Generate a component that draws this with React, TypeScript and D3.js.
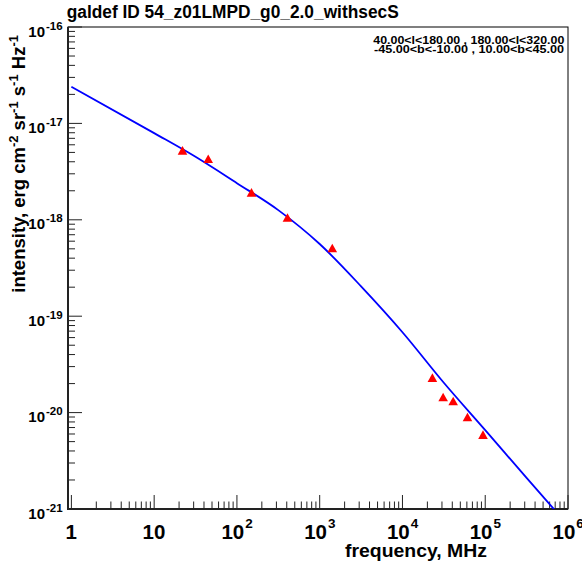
import React from "react";
import * as d3 from "d3";

const title = "galdef ID 54_z01LMPD_g0_2.0_withsecS";
const legendLines = ["40.00<l<180.00 , 180.00<l<320.00", "-45.00<b<-10.00 , 10.00<b<45.00"];

// model curve (frequency MHz, intensity)
const curveFreq = [1, 10, 31.6, 100, 316, 1000, 3162, 1e4, 3.16e4, 1e5, 3.16e5, 1e6];
const curveInt = [2.40e-17, 7.93e-18, 4.50e-18, 2.40e-18, 1.26e-18, 5.61e-19, 2.04e-19, 6.82e-20, 2.04e-20, 6.58e-21, 2.10e-21, 6.8e-22];

// data points
const dataFreq = [22, 45, 150, 408, 1420, 23000, 31000, 41000, 61000, 94000];
const dataInt = [5.21e-18, 4.27e-18, 1.91e-18, 1.05e-18, 5.06e-19, 2.29e-20, 1.44e-20, 1.31e-20, 8.93e-21, 5.86e-21];

const xMajor = [1, 10, 100, 1000, 1e4, 1e5, 1e6];
const xLabels = [["1", ""], ["10", ""], ["10", "2"], ["10", "3"], ["10", "4"], ["10", "5"], ["10", "6"]];
const yMajorExp = [-16, -17, -18, -19, -20, -21];

const W = 582, H = 566;
const L = 68, R = 568, T = 27, B = 509;
const FONT = "'Liberation Sans', Arial, Helvetica, sans-serif";

export default function App() {
  const x = d3.scaleLog().domain([0.91, 1e6]).range([L, R]);
  const y = d3.scaleLog().domain([1e-21, 1e-16]).range([B, T]);

  const pts: [number, number][] = curveFreq.map((f, i) => [x(f), y(curveInt[i])]);
  const line = d3.line().curve(d3.curveMonotoneX)(pts) || "";

  const xTicks: { v: number; major: boolean }[] = [];
  for (let e = 0; e <= 5; e++) {
    for (let k = 1; k <= 9; k++) {
      xTicks.push({ v: k * Math.pow(10, e), major: k === 1 });
    }
  }
  xTicks.push({ v: 1e6, major: true });
  const yTicks: { v: number; major: boolean }[] = [];
  for (let e = -21; e <= -17; e++) {
    for (let k = 1; k <= 9; k++) {
      yTicks.push({ v: k * Math.pow(10, e), major: k === 1 });
    }
  }
  yTicks.push({ v: 1e-16, major: true });

  const tri = (cx: number, cy: number) =>
    `M${cx},${cy - 4.6}L${cx + 4.8},${cy + 4}L${cx - 4.8},${cy + 4}Z`;

  return (
    <svg width={W} height={H} style={{ position: "absolute", left: 0, top: 0, background: "#fff" }} fontFamily={FONT} fontWeight="bold">
      <defs>
        <clipPath id="plotclip">
          <rect x={L} y={T} width={R - L} height={B - T} />
        </clipPath>
      </defs>
      <rect x={0} y={0} width={W} height={H} fill="#fff" />
      <rect x={L} y={T} width={R - L} height={B - T} fill="none" stroke="#000" strokeWidth={1} />
      <line x1={L} y1={T} x2={L} y2={B + 1} stroke="#222" strokeWidth={2} />
      <line x1={L - 1} y1={B} x2={R} y2={B} stroke="#222" strokeWidth={2} />
      {xTicks.map((t, i) => (
        <line key={"xt" + i} x1={x(t.v)} x2={x(t.v)} y1={B} y2={B - (t.major ? 14 : 7.5)} stroke="#222" strokeWidth={1} />
      ))}
      {yTicks.map((t, i) => (
        <line key={"yt" + i} x1={L} x2={L + (t.major ? 14 : 7)} y1={y(t.v)} y2={y(t.v)} stroke="#222" strokeWidth={1} />
      ))}
      {xMajor.map((v, i) => {
        const [base, sup] = xLabels[i];
        const bw = base.length * 11.6;
        const sw = sup ? 7.8 : 0;
        const total = bw + sw;
        const x0 = x(v) - total / 2;
        return (
          <g key={"xl" + i}>
            <text x={x0} y={538.5} fontSize={20.5} textAnchor="start" fill="#000">{base}</text>
            {sup && <text x={x0 + bw + 0.5} y={527.5} fontSize={13.5} textAnchor="start" fill="#000">{sup}</text>}
          </g>
        );
      })}
      {yMajorExp.map((e) => {
        const yy = y(Math.pow(10, e));
        return (
          <g key={"yl" + e}>
            <text x={45} y={yy + 9.5} fontSize={15} textAnchor="end" fill="#000">10</text>
            <text x={46} y={yy + 2.5} fontSize={11.5} textAnchor="start" fill="#000">{String(e)}</text>
          </g>
        );
      })}
      <text x={345} y={556.5} fontSize={17.5} textLength={142} lengthAdjust="spacingAndGlyphs" fill="#000">frequency, MHz</text>
      <text transform={`translate(25,35) rotate(-90)`} fontSize={18.5} textAnchor="end" fill="#000">
        intensity, erg cm<tspan dy={-7} fontSize={13}>-2</tspan>
        <tspan dy={7}> sr</tspan><tspan dy={-7} fontSize={13}>-1</tspan>
        <tspan dy={7}> s</tspan><tspan dy={-7} fontSize={13}>-1</tspan>
        <tspan dy={7}> Hz</tspan><tspan dy={-7} fontSize={13}>-1</tspan>
      </text>
      <text x={66.7} y={18.3} fontSize={17.5} textLength={332} lengthAdjust="spacingAndGlyphs" fill="#000">{title}</text>
      {legendLines.map((s, i) => (
        <text key={"lg" + i} x={i === 0 ? 373.3 : 374} y={44.3 + i * 8.2} fontSize={10}
          textLength={i === 0 ? 191 : 190} lengthAdjust="spacingAndGlyphs" fill="#000">{s}</text>
      ))}
      <g clipPath="url(#plotclip)">
        <path d={line} fill="none" stroke="#0000ff" strokeWidth={1.8} />
      </g>
      {dataFreq.map((f, i) => (
        <path key={"d" + i} d={tri(x(f), y(dataInt[i]))} fill="#ff0000" />
      ))}
    </svg>
  );
}
